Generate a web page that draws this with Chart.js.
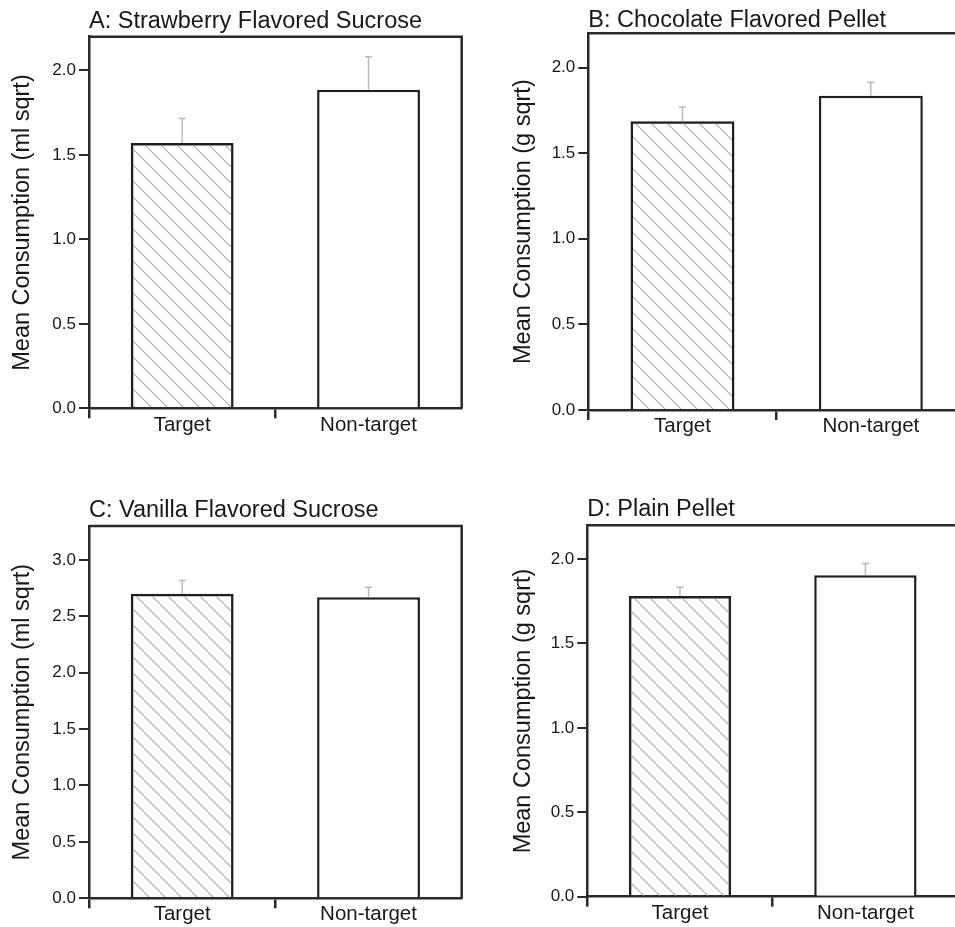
<!DOCTYPE html>
<html>
<head>
<meta charset="utf-8">
<script src="https://cdn.jsdelivr.net/npm/chart.js@4/dist/chart.umd.min.js"></script>
<style>
  html, body { margin: 0; padding: 0; background: #ffffff; overflow: hidden; width: 955px; height: 927px; }
  canvas { position: absolute; }
</style>
</head>
<body>
<canvas id="panelA"></canvas>
<canvas id="panelB"></canvas>
<canvas id="panelC"></canvas>
<canvas id="panelD"></canvas>
<script>
// Groups shown on every panel
const groups = ['Target', 'Non-target'];

// Panel titles and y-axis titles
const panelTitles = [
  'A: Strawberry Flavored Sucrose',
  'B: Chocolate Flavored Pellet',
  'C: Vanilla Flavored Sucrose',
  'D: Plain Pellet'
];
const yTitles = [
  'Mean Consumption (ml sqrt)',
  'Mean Consumption (g sqrt)',
  'Mean Consumption (ml sqrt)',
  'Mean Consumption (g sqrt)'
];

// Means (square-root transformed) and standard errors
const meanA = [1.571, 1.886];
const semA  = [0.144, 0.195];
const meanB = [1.686, 1.836];
const semB  = [0.084, 0.078];
const meanC = [2.699, 2.669];
const semC  = [0.118, 0.089];
const meanD = [1.781, 1.904];
const semD  = [0.052, 0.069];

// Y-axis ranges
const yMax  = [2.2, 2.2, 3.3, 2.2];
const yStep = [0.5, 0.5, 0.5, 0.5];

const FONT = "'Liberation Sans', Arial, Helvetica, sans-serif";
const INK = '#181818';
const AXIS = '#2a2a2a';
const LINE_W = 2.5;

// Diagonal hatch fill for the Target bars
function makeHatch() {
  const s = 16;
  const c = document.createElement('canvas');
  c.width = s; c.height = s;
  const g = c.getContext('2d');
  g.strokeStyle = '#a9a9a9';
  g.lineWidth = 1.1;
  g.beginPath();
  for (const o of [-s, 0, s]) { g.moveTo(o, 0); g.lineTo(o + s, s); }
  g.stroke();
  return g.createPattern(c, 'repeat');
}
const hatch = makeHatch();

// Upper error whiskers drawn from each bar top to mean + SE
const errorBars = {
  id: 'errorBars',
  afterDatasetsDraw(chart) {
    const { ctx } = chart;
    const yScale = chart.scales.y;
    const meta = chart.getDatasetMeta(0);
    const ds = chart.data.datasets[0];
    ctx.save();
    ctx.strokeStyle = '#bcbcbc';
    ctx.lineWidth = 1.5;
    meta.data.forEach((bar, i) => {
      const v = ds.data[i];
      const top = yScale.getPixelForValue(v + ds.sem[i]);
      const base = yScale.getPixelForValue(v);
      ctx.beginPath();
      ctx.moveTo(bar.x, base);
      ctx.lineTo(bar.x, top);
      ctx.moveTo(bar.x - 3.5, top);
      ctx.lineTo(bar.x + 3.5, top);
      ctx.stroke();
    });
    ctx.restore();
  }
};

// Closed frame around the plotting area
const frame = {
  id: 'frame',
  afterDraw(chart) {
    const { ctx, chartArea: a } = chart;
    ctx.save();
    ctx.strokeStyle = AXIS;
    ctx.lineWidth = LINE_W;
    ctx.beginPath();
    ctx.moveTo(a.left, a.top);
    ctx.lineTo(a.right, a.top);
    ctx.lineTo(a.right, a.bottom);
    ctx.stroke();
    ctx.restore();
  }
};

// Canvas placement and plotting-area geometry for each panel
const panels = [
  { id: 'panelA', left: 0,   top: 0,   width: 470, height: 455, area: [89, 36.7, 461.7, 408.3],  titleBase: 30.0,  yTitleX: 22.2,  xLabelBase: 432.7, mean: meanA, sem: semA },
  { id: 'panelB', left: 480, top: 0,   width: 490, height: 455, area: [588.3, 33.3, 965, 410],   titleBase: 28.3,  yTitleX: 523.7, xLabelBase: 433.3, mean: meanB, sem: semB },
  { id: 'panelC', left: 0,   top: 460, width: 470, height: 467, area: [89, 526, 461.7, 898.3],   titleBase: 518.3, yTitleX: 22.2,  xLabelBase: 921.0, mean: meanC, sem: semC },
  { id: 'panelD', left: 480, top: 460, width: 490, height: 467, area: [587.3, 525.3, 958.1, 896.7], titleBase: 517.7, yTitleX: 523.7, xLabelBase: 920.0, mean: meanD, sem: semD }
];

const TITLE_SIZE = 23.5;
const YTITLE_SIZE = 23.5;
const XLABEL_SIZE = 20.5;
const YTICK_SIZE = 17;
const MID = 0.3465; // baseline-to-middle offset, in em

panels.forEach((p, k) => {
  const cv = document.getElementById(p.id);
  cv.width = p.width; cv.height = p.height;
  cv.style.left = p.left + 'px'; cv.style.top = p.top + 'px';
  cv.style.width = p.width + 'px'; cv.style.height = p.height + 'px';

  const [L, T, R, B] = p.area;
  const yAxisWidth = L - p.left;
  const xAxisHeight = (p.top + p.height) - B;
  const padRight = (p.left + p.width) - R;

  const titleMid = p.titleBase - MID * TITLE_SIZE - p.top;
  const titlePadTop = titleMid - TITLE_SIZE / 2;
  const titlePadBottom = (T - p.top) - TITLE_SIZE - titlePadTop;

  const yTitlePad = (p.yTitleX - p.left) - YTITLE_SIZE / 2;
  const xLabelPad = (p.xLabelBase - MID * XLABEL_SIZE) - B - 10 - XLABEL_SIZE / 2;

  new Chart(cv, {
    type: 'bar',
    data: {
      labels: groups,
      datasets: [{
        data: p.mean,
        sem: p.sem,
        backgroundColor: [hatch, '#ffffff'],
        borderColor: '#202020',
        borderWidth: LINE_W,
        borderSkipped: 'start',
        categoryPercentage: 1.0,
        barPercentage: 0.552
      }]
    },
    options: {
      responsive: false,
      animation: false,
      devicePixelRatio: 1,
      layout: { padding: { left: 0, top: 0, right: padRight, bottom: 0 } },
      plugins: {
        legend: { display: false },
        tooltip: { enabled: false },
        title: {
          display: true,
          text: panelTitles[k],
          align: 'start',
          fullSize: false,
          color: INK,
          font: { family: FONT, size: TITLE_SIZE, weight: 'normal', lineHeight: 1 },
          padding: { top: titlePadTop, bottom: titlePadBottom }
        }
      },
      scales: {
        x: {
          type: 'category',
          offset: true,
          grid: {
            offset: true,
            drawOnChartArea: false,
            tickLength: 10,
            lineWidth: LINE_W,
            color: (c) => (c.type === 'tick' ? AXIS : 'rgba(0,0,0,0)')
          },
          border: { display: true, color: AXIS, width: LINE_W },
          ticks: {
            color: INK,
            padding: xLabelPad,
            font: { family: FONT, size: XLABEL_SIZE, lineHeight: 1 }
          },
          afterFit: (s) => { s.height = xAxisHeight; }
        },
        y: {
          min: 0,
          max: yMax[k],
          grid: { drawOnChartArea: false, tickLength: 10, lineWidth: 2, color: AXIS },
          border: { display: true, color: AXIS, width: LINE_W },
          ticks: {
            stepSize: yStep[k],
            includeBounds: false,
            color: INK,
            padding: 3,
            font: { family: FONT, size: YTICK_SIZE },
            callback: (v) => Number(v).toFixed(1)
          },
          title: {
            display: true,
            text: yTitles[k],
            color: INK,
            font: { family: FONT, size: YTITLE_SIZE, lineHeight: 1 },
            padding: { top: yTitlePad, bottom: 0 }
          },
          afterFit: (s) => { s.width = yAxisWidth; }
        }
      }
    },
    plugins: [errorBars, frame]
  });
});
</script>
</body>
</html>
